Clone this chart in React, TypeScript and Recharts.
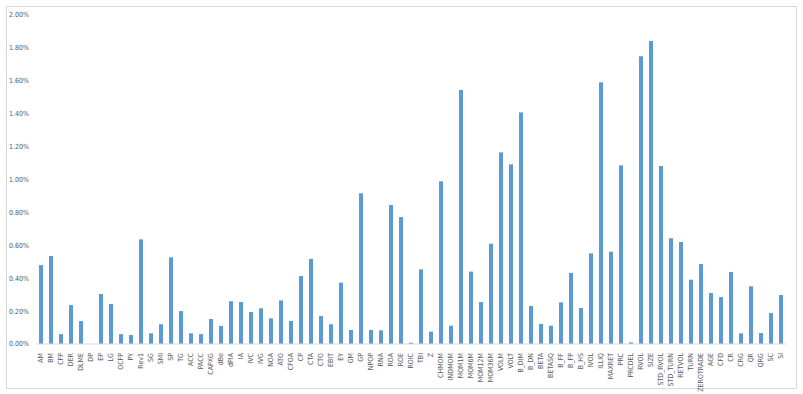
import React from 'react';
import { BarChart, Bar, XAxis, YAxis } from 'recharts';

const FACTORS = [
  'AM', 'BM', 'CFP', 'DER', 'DLME', 'DP', 'EP', 'LG', 'OCFP', 'PY', 'Rev1', 'SG', 'SMI', 'SP', 'TG',
  'ACC', 'PACC', 'CAPXG', 'dBe', 'dPIA', 'IA', 'IVC', 'IVG', 'NOA', 'ATO', 'CFOA', 'CP', 'CTA', 'CTO',
  'EBIT', 'EY', 'GM', 'GP', 'NPOP', 'RNA', 'ROA', 'ROE', 'ROIC', 'TBI', 'Z', 'CHMOM', 'INDMOM', 'MOM1M',
  'MOM6M', 'MOM12M', 'MOM36M', 'VOLM', 'VOLT', 'B_DIM', 'B_DN', 'BETA', 'BETASQ', 'B_FF', 'B_FP', 'B_HS',
  'IVOL', 'ILLIQ', 'MAXRET', 'PRC', 'PRCDEL', 'RVOL', 'SIZE', 'STD_RVOL', 'STD_TURN', 'RETVOL', 'TURN',
  'ZEROTRADE', 'AGE', 'CFD', 'CR', 'CRG', 'QR', 'QRG', 'SC', 'SI',
];

// importance, in percent
const IMPORTANCE = [
  0.48, 0.535, 0.06, 0.237, 0.14, 0.0, 0.304, 0.243, 0.06, 0.055, 0.636, 0.065, 0.12, 0.527, 0.2,
  0.065, 0.06, 0.152, 0.11, 0.26, 0.255, 0.195, 0.217, 0.156, 0.265, 0.14, 0.413, 0.517, 0.17,
  0.12, 0.373, 0.085, 0.916, 0.085, 0.083, 0.845, 0.772, 0.008, 0.454, 0.075, 0.989, 0.111, 1.544,
  0.44, 0.255, 0.61, 1.165, 1.092, 1.408, 0.231, 0.122, 0.111, 0.253, 0.432, 0.219,
  0.551, 1.591, 0.561, 1.086, 0.01, 1.749, 1.842, 1.082, 0.643, 0.62, 0.391,
  0.486, 0.31, 0.286, 0.438, 0.065, 0.351, 0.067, 0.188, 0.298,
];

const Y_TICKS = [0, 0.2, 0.4, 0.6, 0.8, 1.0, 1.2, 1.4, 1.6, 1.8, 2.0];

const FONT = '"Liberation Sans Narrow", "DejaVu Sans Condensed", Arial, sans-serif';

const data = FACTORS.map((name, i) => ({ name, value: IMPORTANCE[i] }));

const FactorTick = (props: any) => {
  const { x, y, payload } = props;
  const ty = y + 1;
  return (
    <text
      x={x}
      y={ty}
      transform={`rotate(-90 ${x} ${ty})`}
      textAnchor="end"
      dy="0.35em"
      fontSize={7}
      fill="#595959"
      fontFamily={FONT}
    >
      {payload.value}
    </text>
  );
};

export default function App() {
  return (
    <div style={{ position: 'absolute', left: 0, top: 0, width: 803, height: 394, background: '#fff' }}>
      <div
        style={{
          position: 'absolute',
          left: 6,
          top: 6,
          width: 789,
          height: 381,
          border: '1px solid #d9d9d9',
        }}
      />
      <BarChart
        width={803}
        height={394}
        data={data}
        margin={{ top: 15, right: 17, bottom: 6, left: 6 }}
        barCategoryGap={0}
        style={{ position: 'absolute', left: 0, top: 0 }}
      >
        <XAxis
          dataKey="name"
          interval={0}
          height={44}
          tickLine={false}
          axisLine={{ stroke: '#d9d9d9' }}
          tick={<FactorTick />}
        />
        <YAxis
          width={30}
          domain={[0, 2]}
          ticks={Y_TICKS}
          axisLine={false}
          tickLine={false}
          tickFormatter={(v: number) => `${v.toFixed(2)}%`}
          tick={{ fontSize: 7, fill: '#595959', fontFamily: FONT }}
          tickMargin={1}
        />
        <Bar dataKey="value" fill="#5b9bd5" barSize={4} isAnimationActive={false} />
      </BarChart>
    </div>
  );
}
